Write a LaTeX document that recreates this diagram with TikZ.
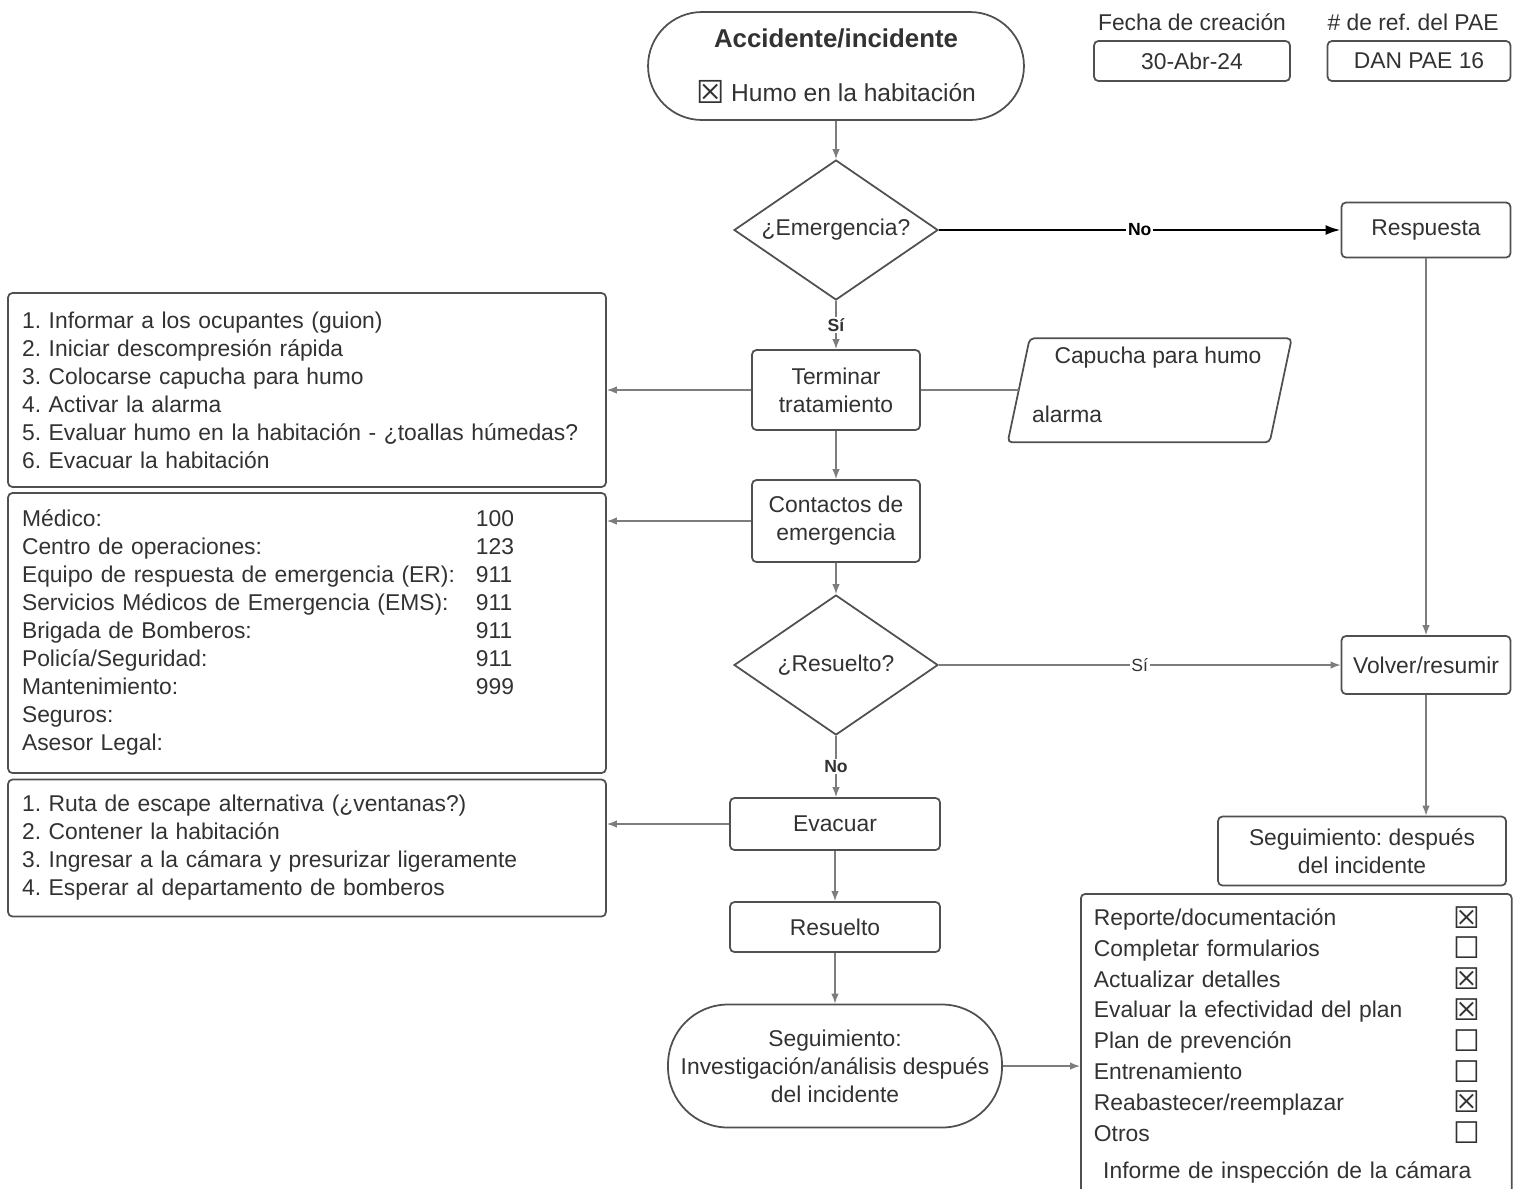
\documentclass[tikz,border=0pt]{standalone}
\usepackage{fontspec}
\setmainfont{Liberation Sans}
\newfontfamily\boxfont{DejaVu Sans}
\usetikzlibrary{arrows.meta,positioning,shapes.geometric}
\definecolor{txtg}{RGB}{50,50,50}
\definecolor{edgeg}{RGB}{80,80,80}
\definecolor{linkg}{RGB}{125,125,125}
\newcommand{\chkx}{\smash{\raisebox{-1.5pt}{\boxfont\fontsize{17}{17}\selectfont ☒}}}
\newcommand{\chko}{\smash{\raisebox{-1.5pt}{\boxfont\fontsize{17}{17}\selectfont ☐}}}
\frenchspacing

\begin{document}
\begin{tikzpicture}[x=0.02cm, y=-0.02cm, font=\fontsize{13}{15.94}\selectfont, text=txtg,
  proc/.style={draw=edgeg, line width=1pt, rounded corners=2.5pt, align=center, inner sep=2pt},
  term/.style={draw=edgeg, line width=1pt, align=center},
  dec/.style={draw=edgeg, line width=1pt, diamond, aspect=1.46, inner sep=0pt, minimum width=4.08cm, minimum height=2.8cm},
  note/.style={draw=edgeg, line width=1pt, rounded corners=2.5pt, align=left, text width=11.4cm, inner sep=0.28cm},
  link/.style={draw=linkg, line width=0.8pt, -{Latex[length=2mm,width=1.5mm]}},
  lab/.style={font=\fontsize{10}{12}\selectfont\bfseries, fill=white, inner sep=1pt},
]
  \useasboundingbox (0,0) rectangle (1523,1188);
  % --- header ---
  \node[term, minimum width=7.52cm, minimum height=2.16cm, rounded corners=1.08cm] (start) at (836,66)
    {{\fontsize{14.7}{16}\selectfont\bfseries Accidente/incidente}\\[15pt]
     {\fontsize{14}{16}\selectfont\raisebox{-1pt}{\boxfont\fontsize{18}{18}\selectfont ☒} Humo en la habitación}};
  \node (datelbl) at (1192,22) {Fecha de creación};
  \node[proc, minimum width=3.92cm, minimum height=0.8cm] (datebox) at (1192,61) {30-Abr-24};
  \node (reflbl) at (1413,22) {\# de ref. del PAE};
  \node[proc, minimum width=3.66cm, minimum height=0.8cm] (refbox) at (1419,61) {DAN PAE 16};
  % --- main column ---
  \node[dec] (emerg) at (836,230) {¿Emergencia?};
  \node[proc, minimum width=3.36cm, minimum height=1.6cm] (stop) at (836,390) {Terminar\\tratamiento};
  \node[proc, minimum width=3.36cm, minimum height=1.64cm] (contact) at (836,521) {Contactos de\\emergencia};
  \node[dec] (solved) at (836,665) {¿Resuelto?};
  \node[proc, minimum width=4.2cm, minimum height=1.04cm] (evac) at (835,824) {Evacuar};
  \node[proc, minimum width=4.2cm, minimum height=1.0cm] (done) at (835,927) {Resuelto};
  \node[term, minimum width=6.68cm, minimum height=2.46cm, rounded corners=1.2cm] (follow) at (835,1066)
    {Seguimiento:\\Investigación/análisis después\\del incidente};
  % --- right column ---
  \node[proc, minimum width=3.38cm, minimum height=1.1cm] (resp) at (1426,230) {Respuesta};
  \node[proc, minimum width=3.38cm, minimum height=1.16cm] (resume) at (1426,665) {Volver/resumir};
  \node[proc, minimum width=5.76cm, minimum height=1.38cm] (after) at (1362,851) {Seguimiento: después\\del incidente};
  \node[minimum width=5.24cm, minimum height=2.08cm] (gear) at (1150,390) {};
  \draw[draw=edgeg, line width=1pt, rounded corners=2.5pt] (gear.south west) ++(-11,0) -- ++(22,-104)
    -- ++(262,0) -- ++(-22,104) -- cycle;
  \node (gear1) at (1158,358) {Capucha para humo};
  \node[anchor=west] (gear2) at (1026,414) {alarma};
  \node[draw=edgeg, line width=1pt, rounded corners=2.5pt, anchor=north west, align=left,
    inner xsep=0.26cm, inner ysep=0.2cm, text width=8.1cm] (insp) at (1080,893)
    {\renewcommand{\arraystretch}{1.1}%
     \begin{tabular}{@{}p{6.78cm}c@{}}
       Reporte/documentación & \chkx\\
       Completar formularios & \chko\\
       Actualizar detalles & \chkx\\
       Evaluar la efectividad del plan & \chkx\\
       Plan de prevención & \chko\\
       Entrenamiento & \chko\\
       Reabastecer/reemplazar & \chkx\\
       Otros & \chko\\[4pt]
       \multicolumn{2}{@{}c@{}}{Informe de inspección de la cámara}
     \end{tabular}};
  % --- left notes ---
  \node[note, minimum height=3.88cm] (steps) at (307,390)
    {1. Informar a los ocupantes (guion)\\
     2. Iniciar descompresión rápida\\
     3. Colocarse capucha para humo\\
     4. Activar la alarma\\
     5. Evaluar humo en la habitación - ¿toallas húmedas?\\
     6. Evacuar la habitación};
  \node[note, minimum height=5.52cm] (phones) at (307,633)
    {\begin{tabular}{@{}p{9.08cm}@{}l@{}}
       Médico: & 100\\
       Centro de operaciones: & 123\\
       Equipo de respuesta de emergencia (ER): & 911\\
       Servicios Médicos de Emergencia (EMS): & 911\\
       Brigada de Bomberos: & 911\\
       Policía/Seguridad: & 911\\
       Mantenimiento: & 999\\
       Seguros: & \\
       Asesor Legal: &
     \end{tabular}};
  \node[note, minimum height=2.74cm] (escape) at (307,848)
    {1. Ruta de escape alternativa (¿ventanas?)\\
     2. Contener la habitación\\
     3. Ingresar a la cámara y presurizar ligeramente\\
     4. Esperar al departamento de bomberos};
  % --- connectors ---
  \draw[link] (start) -- (emerg);
  \draw[link, draw=black, line width=1.4pt, -{Latex[length=3mm,width=2mm]}] (emerg.east) -- node[lab, text=black] {No} (resp.west);
  \draw[link] (emerg.south) -- node[lab] {Sí} (stop.north);
  \draw[link] (stop.west) -- (stop.west -| steps.east);
  \draw[draw=linkg, line width=0.8pt] (stop.east) -- (gear.west);
  \draw[link] (stop) -- (contact);
  \draw[link] (contact.west) -- (contact.west -| phones.east);
  \draw[link] (contact) -- (solved);
  \draw[link] (solved.east) -- node[lab, font=\fontsize{10}{12}\selectfont] {Sí} (resume.west);
  \draw[link] (solved.south) -- node[lab] {No} (solved.south |- evac.north);
  \draw[link] (evac.west) -- (evac.west -| escape.east);
  \draw[link] (evac) -- (done);
  \draw[link] (done) -- (follow);
  \draw[link] (follow.east) -- (follow.east -| insp.west);
  \draw[link] (resp) -- (resume);
  \draw[link] (resume.south) -- (resume.south |- after.north);
\end{tikzpicture}
\end{document}
